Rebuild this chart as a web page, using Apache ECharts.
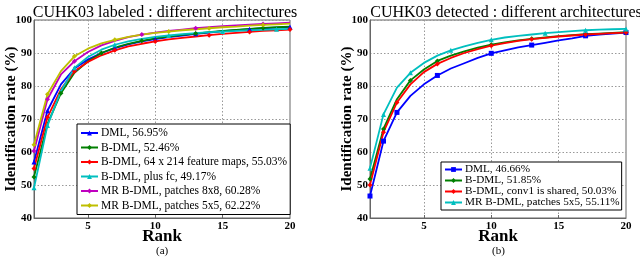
<!DOCTYPE html>
<html>
<head>
<meta charset="utf-8">
<script src="https://cdn.jsdelivr.net/npm/echarts@6/dist/echarts.min.js"></script>
<style>html,body{margin:0;padding:0;background:#fff}#c{width:640px;height:259px}</style>
</head>
<body>
<div id="c"></div>
<script>
const ranks = [1,2,3,4,5,6,7,8,9,10,11,12,13,14,15,16,17,18,19,20];
const xTicks = [5,10,15,20];
const yTicks = [40,50,60,70,80,90,100];

// (a) CUHK03 labeled
const titleA = 'CUHK03 labeled : different architectures';
const namesA = ['DML, 56.95%','B-DML, 52.46%','B-DML, 64 x 214 feature maps, 55.03%','B-DML, plus fc, 49.17%','MR B-DML, patches 8x8, 60.28%','MR B-DML, patches 5x5, 62.22%'];
const dmlA     = [56.95,72.5,80.5,85.3,88.0,90.0,91.5,92.6,93.5,94.2,94.8,95.3,95.8,96.2,96.6,96.9,97.2,97.5,97.7,97.9];
const bdmlA    = [52.46,68.5,77.8,84.0,87.5,90.0,91.6,92.8,93.7,94.4,95.0,95.5,95.9,96.3,96.7,97.0,97.3,97.6,97.8,98.0];
const bdml64A  = [55.03,70.5,79.0,84.5,87.3,89.3,90.8,92.0,92.8,93.5,94.1,94.6,95.0,95.4,95.8,96.1,96.4,96.7,96.9,97.1];
const fcA      = [49.17,68.0,78.5,85.5,88.8,91.0,92.5,93.5,94.3,94.9,95.3,95.7,96.0,96.3,96.5,96.7,96.9,97.0,97.2,97.3];
const mr8A     = [60.28,76.0,83.5,87.5,90.3,92.3,93.7,94.8,95.6,96.2,96.7,97.1,97.5,97.8,98.1,98.4,98.6,98.8,99.0,99.2];
const mr5A     = [62.22,77.5,84.5,89.0,91.3,92.9,94.0,94.9,95.6,96.1,96.5,96.9,97.2,97.5,97.8,98.0,98.3,98.5,98.7,98.9];
const marksA = [[1,2,4,7,10,13,17,20],[1,3,6,9,13,18],[1,2,4,7,10,14,17,20],[1,2,4,7,11,15,19],[1,2,4,9,13,18],[1,2,4,7,11,14,18]];

// (b) CUHK03 detected
const titleB = 'CUHK03 detected : different architectures';
const namesB = ['DML, 46.66%','B-DML, 51.85%','B-DML, conv1 is shared, 50.03%','MR B-DML, patches 5x5, 55.11%'];
const dmlB    = [46.66,63.3,72.0,77.0,80.5,83.2,85.3,86.9,88.5,89.9,90.8,91.7,92.4,93.1,93.8,94.4,95.2,95.6,95.9,96.2];
const bdmlB   = [51.85,67.0,76.0,81.7,85.0,87.6,89.2,90.5,91.6,92.5,93.2,93.8,94.3,94.7,95.1,95.4,95.7,95.9,96.1,96.3];
const convB   = [50.03,66.0,75.0,80.5,84.2,86.7,88.5,90.0,91.2,92.2,93.0,93.7,94.2,94.6,95.0,95.3,95.6,95.8,96.0,96.2];
const mr5B    = [55.11,71.4,79.5,84.0,87.0,89.2,90.8,92.0,93.1,94.0,94.7,95.2,95.6,96.0,96.3,96.6,96.9,97.1,97.2,97.3];
const marksB = [[1,2,3,6,10,13,17,20],[1,2,4,6,10,13,17,20],[1,2,3,6,10,13,17,20],[1,2,4,7,10,14,17,20]];

const FONT = "'Liberation Serif','Times New Roman',serif";
const colorsA = ['#0000ff','#007f00','#ff0000','#00bfbf','#bf00bf','#bfbf00'];
const symbolsA = ['triangle','diamond','diamond','triangle','diamond','diamond'];
const colorsB = ['#0000ff','#007f00','#ff0000','#00bfbf'];
const symbolsB = ['rect','diamond','diamond','triangle'];

function mkSeries(name, vals, marks, color, symbol, idx) {
  return {
    type: 'line', name: name, xAxisIndex: idx, yAxisIndex: idx,
    symbol: symbol, symbolSize: 5, showSymbol: true,
    lineStyle: { color: color, width: 1.8 },
    itemStyle: { color: color },
    emphasis: { disabled: true },
    animation: false,
    data: ranks.map((r, i) => marks.includes(r) ? { value: [r, vals[i]] } : { value: [r, vals[i]], symbol: 'none' })
  };
}

const seriesA = [dmlA, bdmlA, bdml64A, fcA, mr8A, mr5A].map((v, i) => mkSeries(namesA[i], v, marksA[i], colorsA[i], symbolsA[i], 0));
const seriesB = [dmlB, bdmlB, convB, mr5B].map((v, i) => mkSeries(namesB[i], v, marksB[i], colorsB[i], symbolsB[i], 1));

function xAxis(idx) {
  return {
    type: 'value', gridIndex: idx, min: 1, max: 20,
    name: 'Rank', nameLocation: 'middle', nameGap: 10, nameMoveOverlap: false,
    nameTextStyle: { fontFamily: FONT, fontWeight: 'bold', fontSize: 17, color: '#000' },
    axisLine: { show: true, onZero: false, lineStyle: { color: '#666' } },
    axisTick: { show: true, inside: true, length: 3, customValues: [5,10,15], lineStyle: { color: '#666' } },
    axisLabel: { customValues: xTicks, fontFamily: FONT, fontWeight: 'bold', fontSize: 11, color: '#000', margin: 3 },
    splitLine: { show: true, lineStyle: { type: [1.5, 2], color: '#999', width: 1 } }
  };
}
function yAxis(idx) {
  return {
    type: 'value', gridIndex: idx, min: 40, max: 100, interval: 10,
    name: 'Identification rate (%)', nameLocation: 'middle', nameGap: 15, nameMoveOverlap: false,
    nameTextStyle: { fontFamily: FONT, fontWeight: 'bold', fontSize: 15, color: '#000' },
    axisLine: { show: true, lineStyle: { color: '#666' } },
    axisTick: { show: false },
    axisLabel: { fontFamily: FONT, fontWeight: 'bold', fontSize: 11, color: '#000', margin: 2 },
    splitLine: { show: true, lineStyle: { type: [1.5, 2], color: '#999', width: 1 } }
  };
}

function legend(idx, names, pos) {
  return Object.assign({
    data: names, orient: 'vertical', itemWidth: 17, itemHeight: 6, itemGap: pos.gap,
    backgroundColor: '#fff', borderColor: '#000', borderWidth: 1, borderRadius: 0,
    padding: pos.pad,
    textStyle: { fontFamily: FONT, fontSize: pos.fs, color: '#000', padding: [0,0,0,-2] },
    selectedMode: false
  }, pos.box);
}

const chart = echarts.init(document.getElementById('c'), null, { renderer: 'canvas' });
chart.setOption({
  animation: false,
  backgroundColor: '#fff',
  title: [
    { text: titleA, left: 160, top: 0, textAlign: 'center', textStyle: { fontFamily: FONT, fontWeight: 'normal', fontSize: 16, color: '#000' } },
    { text: titleB, left: 501, top: 0, textAlign: 'center', textStyle: { fontFamily: FONT, fontWeight: 'normal', fontSize: 16, color: '#000' } }
  ],
  grid: [
    { left: 34, right: 350, top: 20, bottom: 41, show: true, borderColor: '#666', borderWidth: 1, backgroundColor: 'transparent' },
    { left: 370, right: 14, top: 20, bottom: 41, show: true, borderColor: '#666', borderWidth: 1, backgroundColor: 'transparent' }
  ],
  xAxis: [xAxis(0), xAxis(1)],
  yAxis: [yAxis(0), yAxis(1)],
  legend: [
    legend(0, namesA, { gap: 2.5, fs: 11.5, pad: [3, 3, 3, 3], box: { left: 77, top: 124 } }),
    legend(1, namesB, { gap: 0, fs: 11.2, pad: [2, 2, 2, 3], box: { left: 441, top: 162 } })
  ],
  series: seriesA.concat(seriesB),
  graphic: [
    { type: 'text', left: 156, top: 246, style: { text: '(a)', font: '11px ' + FONT, fill: '#000' } },
    { type: 'text', left: 492, top: 246, style: { text: '(b)', font: '11px ' + FONT, fill: '#000' } }
  ]
});
</script>
</body>
</html>
